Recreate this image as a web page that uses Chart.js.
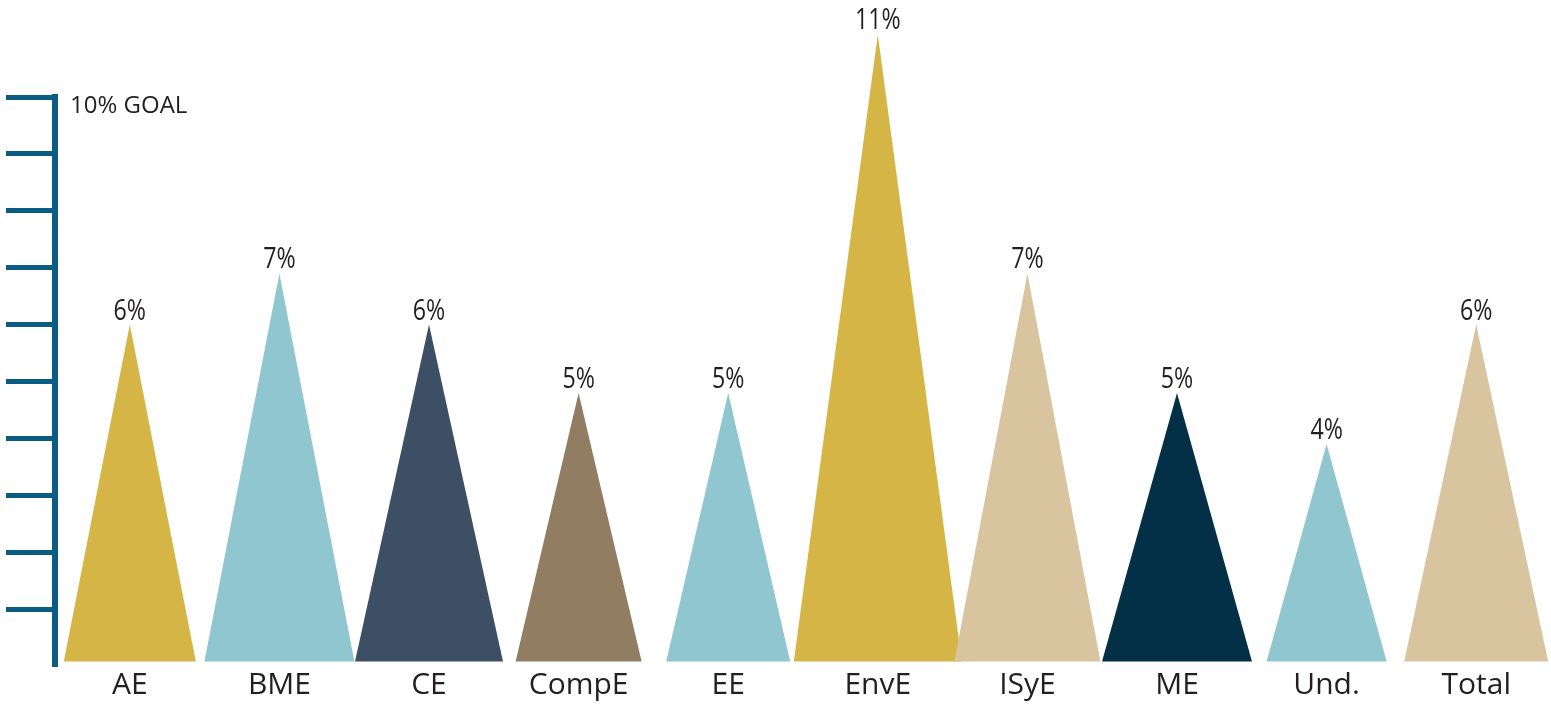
<!DOCTYPE html>
<html>
<head>
<meta charset="utf-8">
<script src="https://cdn.jsdelivr.net/npm/chart.js@4.4.1/dist/chart.umd.min.js"></script>
<style>
  html, body { margin: 0; padding: 0; background: #fff; }
  #wrap { width: 1551px; height: 704px; position: relative; }
</style>
</head>
<body>
<div id="wrap"><canvas id="myChart"></canvas></div>
<script>
const categories = ["AE", "BME", "CE", "CompE", "EE", "EnvE", "ISyE", "ME", "Und.", "Total"];
const rates = [6.0, 6.9, 6.0, 4.8, 4.8, 11.1, 6.9, 4.8, 3.9, 6.0];
const goal = 10;
const goalLabel = "10% GOAL";

// styling
const colors = ["#d4b546", "#8fc6d0", "#3c4f64", "#917d62", "#8fc6d0",
                "#d4b546", "#d9c4a0", "#033047", "#8fc6d0", "#d9c4a0"];
const baseWidths = [132, 150, 148, 126, 124, 168, 146, 150, 120, 144];
const axisColor = "#0a5c83";
const textColor = "#231f20";
const baseInset = 4;

const triangles = {
  id: "triangles",
  beforeDatasetDraw(chart, args) {
    const ctx = chart.ctx;
    const meta = args.meta;
    meta.data.forEach((bar, i) => {
      const half = baseWidths[i] / 2;
      const b = bar.base - baseInset;
      ctx.save();
      ctx.fillStyle = colors[i];
      ctx.beginPath();
      ctx.moveTo(bar.x - half, b);
      ctx.lineTo(bar.x, bar.y);
      ctx.lineTo(bar.x + half, b);
      ctx.closePath();
      ctx.fill();
      // value label, squeezed to look condensed
      ctx.translate(bar.x, bar.y - 5);
      ctx.scale(0.8, 1);
      ctx.fillStyle = textColor;
      ctx.font = "29px 'Open Sans', sans-serif";
      ctx.textAlign = "center";
      ctx.textBaseline = "alphabetic";
      ctx.fillText(Math.round(rates[i]) + "%", 0, 0);
      ctx.restore();
    });
    return false;
  },
  afterDraw(chart) {
    const ctx = chart.ctx;
    const y = chart.scales.y;
    ctx.save();
    ctx.fillStyle = textColor;
    ctx.font = "24px 'Open Sans', sans-serif";
    ctx.textAlign = "left";
    ctx.textBaseline = "alphabetic";
    ctx.fillText(goalLabel, chart.chartArea.left + 15, y.getPixelForValue(goal) + 16);
    ctx.restore();
  }
};

new Chart(document.getElementById("myChart"), {
  type: "bar",
  data: {
    labels: categories,
    datasets: [{
      data: rates,
      backgroundColor: colors,
      clip: false,
    }],
  },
  options: {
    responsive: true,
    maintainAspectRatio: false,
    animation: false,
    layout: { padding: { top: 97, left: 6, right: 0, bottom: 0 } },
    plugins: {
      legend: { display: false },
      tooltip: { enabled: false },
    },
    scales: {
      x: {
        grid: { display: false, drawTicks: false },
        border: { display: false },
        ticks: {
          padding: 1,
          color: textColor,
          font: { family: "'Open Sans', sans-serif", size: 30 },
        },
      },
      y: {
        min: 0,
        max: goal,
        ticks: { display: false, stepSize: 1 },
        grid: {
          drawOnChartArea: false,
          drawTicks: true,
          tickLength: 49,
          tickWidth: 5,
          tickColor: (c) => (c.tick && c.tick.value === 0 ? "rgba(0,0,0,0)" : axisColor),
        },
        border: { display: true, color: axisColor, width: 6 },
      },
    },
  },
  plugins: [triangles],
});
</script>
</body>
</html>
